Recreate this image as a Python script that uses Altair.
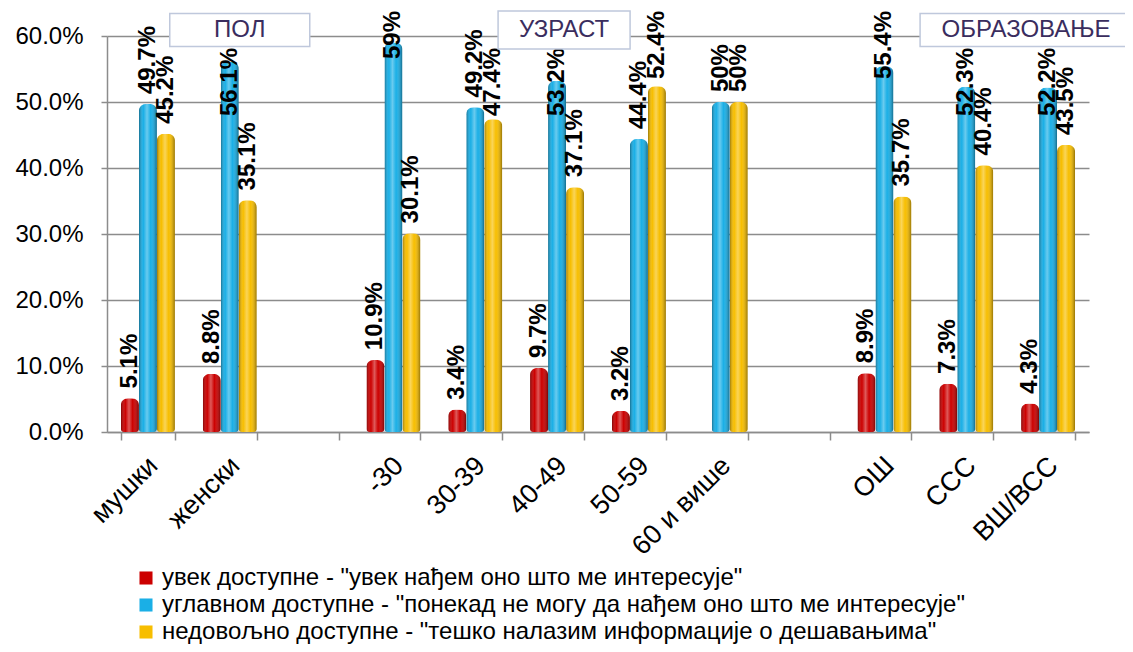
import altair as alt
import pandas as pd

FONT = "Liberation Sans, Arial, sans-serif"

categories = ["мушки", "женски", " ", "-30", "30-39", "40-49", "50-59", "60 и више", "  ", "ОШ", "ССС", "ВШ/ВСС"]
groups = ["мушки", "женски", "-30", "30-39", "40-49", "50-59", "60 и више", "ОШ", "ССС", "ВШ/ВСС"]
series = [
    'увек доступне - "увек нађем оно што ме интересује"',
    'углавном доступне - "понекад не могу да нађем оно што ме интересује"',
    'недовољно доступне - "тешко налазим информације о дешавањима"',
]
always = [5.1, 8.8, 10.9, 3.4, 9.7, 3.2, 0.0, 8.9, 7.3, 4.3]
mostly = [49.7, 56.1, 59.0, 49.2, 53.2, 44.4, 50.0, 55.4, 52.3, 52.2]
poorly = [45.2, 35.1, 30.1, 47.4, 37.1, 52.4, 50.0, 35.7, 40.4, 43.5]
colors = ["#CC0000", "#1AAFE6", "#F7BE00"]

box_labels = ["ПОЛ", "УЗРАСТ", "ОБРАЗОВАЊЕ"]
box_anchor = ["женски", "40-49", "ВШ/ВСС"]
box_shift = [10, 7, -22]
box_w = [140, 132, 212]
box_h = [33, 38, 33]

# layout helpers (pixels) used only to keep value labels inside the page / below the boxes
W, H, YMAX = 982, 396, 60
STEP = W / len(categories)
PX = H / YMAX
BAR = STEP * 0.66 / 3

box_spans = []
for anc, sh, w in zip(box_anchor, box_shift, box_w):
    c = STEP * (categories.index(anc) + 0.5) + sh
    box_spans.append((c - w / 2, c + w / 2))

rows = []
for si, (s, vals) in enumerate(zip(series, [always, mostly, poorly])):
    for g, v in zip(groups, vals):
        if v > 0:
            lab = f"{v:.1f}".rstrip("0").rstrip(".") + "%"
            ndig = sum(ch.isdigit() for ch in lab)
            lpx = 24 * (0.556 * ndig + (0.278 if "." in lab else 0) + 0.889)
            xc = STEP * (categories.index(g) + 0.5) + (si - 1) * BAR
            under_box = any(a - 10 < xc < b + 10 for a, b in box_spans)
            top_min = 12 if under_box else -25
            ly = min(v + 1.5, (H - top_min - lpx) / PX)
            rows.append({"cat": g, "series": s, "v": v, "lab": lab, "ly": ly})
df = pd.DataFrame(rows)

xscale = alt.Scale(domain=categories, paddingInner=0.34, paddingOuter=0.17)
xoff = alt.XOffset("series:N", scale=alt.Scale(domain=series, paddingInner=0, paddingOuter=0))
yscale = alt.Scale(domain=[0, YMAX])

x_axis = alt.Axis(
    title=None, labelAngle=-45, labelFontSize=27, labelFont=FONT, labelColor="black",
    tickBand="extent", tickSize=8, tickColor="#8C8C8C", tickWidth=1.5,
    domainColor="#8C8C8C", domainWidth=1.5, labelPadding=12, labelOffset=-4, grid=False,
)
y_axis = alt.Axis(
    title=None, values=[0, 10, 20, 30, 40, 50, 60],
    labelExpr="format(datum.value, '.1f') + '%'",
    labelFontSize=24, labelFont=FONT, labelColor="black", labelPadding=18,
    tickSize=6, tickColor="#8C8C8C", tickWidth=1.5,
    domainColor="#8C8C8C", domainWidth=1.5,
    grid=True, gridColor="#8C8C8C", gridWidth=1.5,
)

base = alt.Chart(df)

bars = base.mark_bar(
    cornerRadiusTopLeft=7, cornerRadiusTopRight=7,
    cornerRadiusBottomLeft=3, cornerRadiusBottomRight=3,
).encode(
    x=alt.X("cat:N", scale=xscale, axis=x_axis),
    xOffset=xoff,
    y=alt.Y("v:Q", scale=yscale, axis=y_axis),
    color=alt.Color(
        "series:N",
        scale=alt.Scale(domain=series, range=colors),
        legend=alt.Legend(
            title=None, orient="none", legendX=27, legendY=530, direction="vertical",
            labelFontSize=24, labelFont=FONT, labelColor="black",
            symbolType="square", symbolSize=170, symbolStrokeWidth=0,
            rowPadding=3, labelLimit=900, labelOffset=4,
        ),
    ),
)

shade = base.mark_bar(
    cornerRadiusTopLeft=7, cornerRadiusTopRight=7,
    cornerRadiusBottomLeft=3, cornerRadiusBottomRight=3,
    fill=alt.Gradient(
        gradient="linear", x1=0, x2=1, y1=0, y2=0,
        stops=[
            alt.GradientStop(color="rgba(0,0,0,0.38)", offset=0),
            alt.GradientStop(color="rgba(255,255,255,0.0)", offset=0.25),
            alt.GradientStop(color="rgba(255,255,255,0.35)", offset=0.45),
            alt.GradientStop(color="rgba(255,255,255,0.0)", offset=0.65),
            alt.GradientStop(color="rgba(0,0,0,0.4)", offset=1),
        ],
    ),
).encode(
    x=alt.X("cat:N", scale=xscale),
    xOffset=xoff,
    y=alt.Y("v:Q", scale=yscale),
)

labels = base.mark_text(
    angle=270, align="left", baseline="middle",
    fontSize=24, fontWeight="bold", font=FONT, color="black",
).encode(
    x=alt.X("cat:N", scale=xscale),
    xOffset=xoff,
    y=alt.Y("ly:Q", scale=yscale),
    text="lab:N",
)

layers = [bars, shade, labels]
for lbl, anc, sh, w, h in zip(box_labels, box_anchor, box_shift, box_w, box_h):
    bdf = pd.DataFrame({"cat": [anc], "t": [lbl]})
    r = h / w
    path = f"M-1,{-r:.4f}H1V{r:.4f}H-1Z"
    box = alt.Chart(bdf).mark_point(
        shape=path, size=w * w, filled=True, fill="white", stroke="#BFC8DC",
        strokeWidth=1.5, opacity=1, xOffset=sh,
    ).encode(x=alt.X("cat:N", scale=xscale), y=alt.value(-6))
    txt = alt.Chart(bdf).mark_text(
        fontSize=24, font=FONT, color="#3A2D5E", baseline="middle", align="center", xOffset=sh,
    ).encode(x=alt.X("cat:N", scale=xscale), y=alt.value(-6), text="t:N")
    layers += [box, txt]

chart = alt.layer(*layers).properties(
    width=W, height=H,
    autosize=alt.AutoSizeParams(type="none"),
    padding={"left": 99, "top": 28, "right": 36, "bottom": 212},
).configure_view(stroke=None)

chart.save("out.html", embed_options={"renderer": "svg", "actions": False})
